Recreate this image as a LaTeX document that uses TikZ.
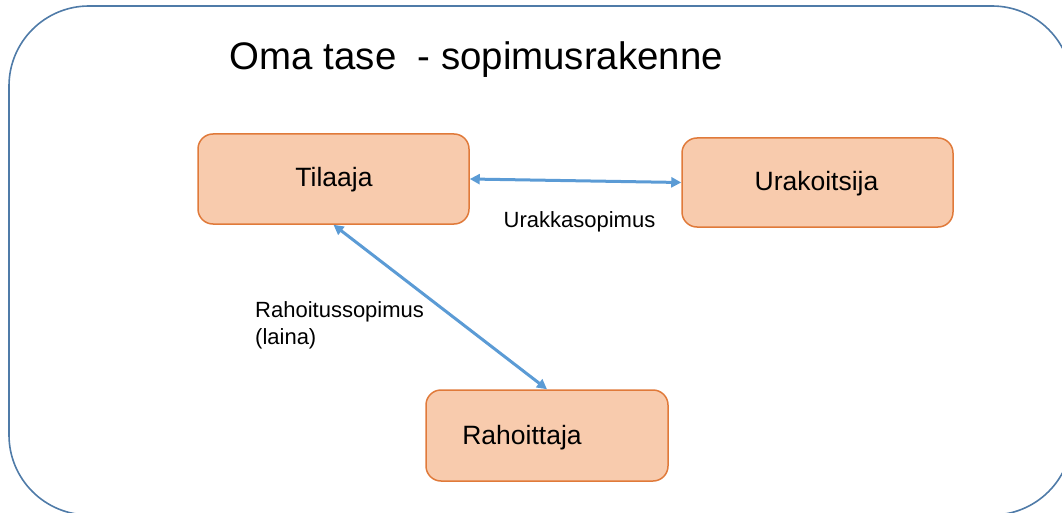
\documentclass[tikz,border=0pt]{standalone}
\usepackage{fontspec}
\setmainfont{Liberation Sans}
\usetikzlibrary{arrows.meta}
\definecolor{frameblue}{HTML}{4F7BA8}
\definecolor{boxfill}{HTML}{F8CBAD}
\definecolor{boxline}{HTML}{E07A3A}
\definecolor{arrowblue}{HTML}{5B9BD5}
\tikzset{
  partybox/.style={draw=boxline, fill=boxfill, line width=1.5pt, rounded corners=15pt, inner sep=0pt},
  partytext/.style={font=\fontsize{26.5}{30}\selectfont, inner sep=0pt},
  contract/.style={draw=arrowblue, line width=3pt, {Triangle[length=10pt,width=10pt]}-{Triangle[length=10pt,width=10pt]}},
  smalltext/.style={font=\fontsize{22}{27}\selectfont, inner sep=0pt, align=left}
}
\begin{document}
\begin{tikzpicture}[x=1pt,y=-1pt]
\useasboundingbox (0,0) rectangle (1062,513);
\begin{scope}
\clip (0,0) rectangle (1062,513);
\draw[frameblue, line width=1.6pt, rounded corners=80pt] (9,6) rectangle (1072,515);
\end{scope}
\node[font=\fontsize{38.4}{44}\selectfont, inner sep=0pt] (title) at (476.5,60) {Oma tase~~- sopimusrakenne};
\node[partybox, minimum width=271pt, minimum height=90pt] (tilaaja) at (333.5,179) {};
\node[partytext] (tilaajatext) at (334,180) {Tilaaja};
\node[partybox, minimum width=271pt, minimum height=89pt] (urakoitsija) at (817.5,182.5) {};
\node[partytext] (urakoitsijatext) at (816.5,184) {Urakoitsija};
\node[partybox, minimum width=242pt, minimum height=91pt] (rahoittaja) at (547,435.5) {};
\node[partytext] (rahoittajatext) at (522,438) {Rahoittaja};
\draw[contract] (tilaaja.east) -- (urakoitsija.west);
\draw[contract] (tilaaja.south) -- (rahoittaja.north);
\node[smalltext] (urakkasopimus) at (579.5,222) {Urakkasopimus};
\node[smalltext, anchor=west] (rahoitussopimus) at (255,325) {Rahoitussopimus\\(laina)};
\end{tikzpicture}
\end{document}
